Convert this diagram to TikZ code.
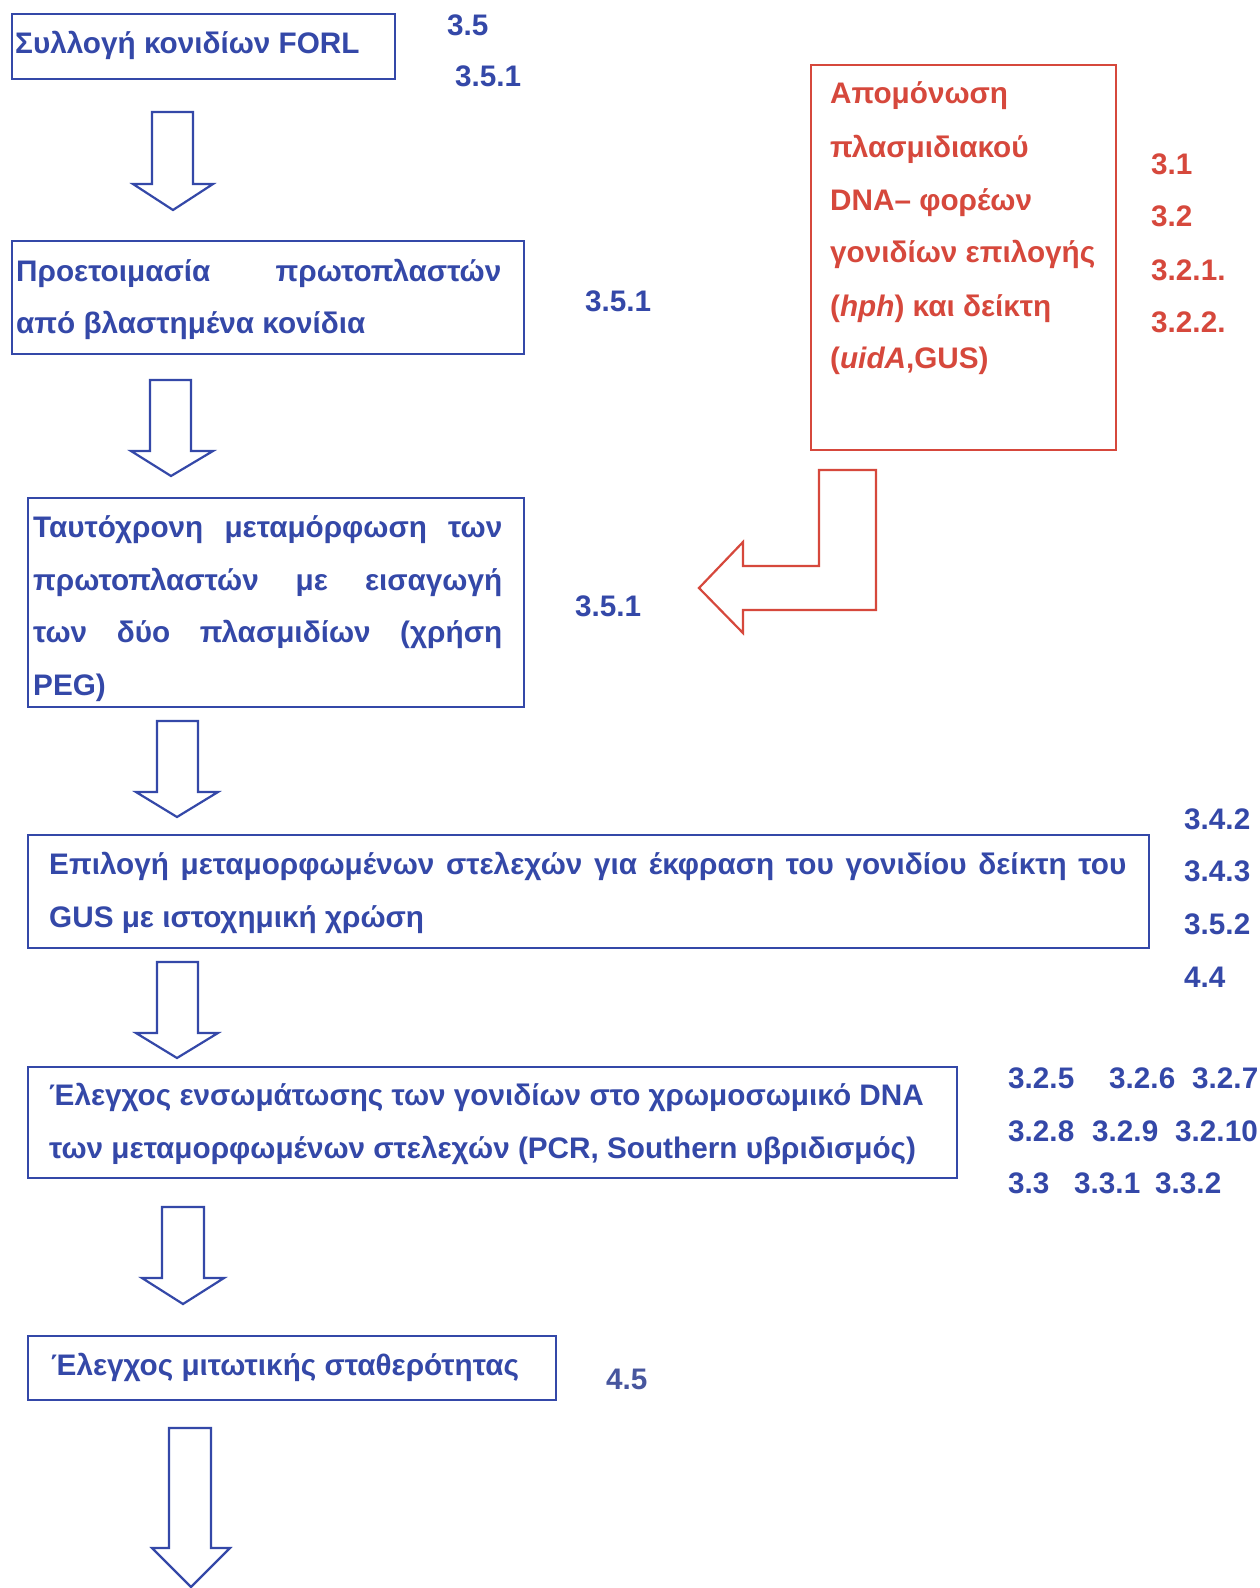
\documentclass[tikz,border=0pt]{standalone}
\usepackage{fontspec}
\setmainfont{Liberation Sans}
\definecolor{bl}{RGB}{52,72,168}
\definecolor{rd}{RGB}{214,72,60}
\begin{document}
\begin{tikzpicture}[x=1pt,y=-1pt,
  font=\fontsize{29.7}{52}\selectfont\bfseries,
  box/.style={draw=bl, line width=2.4pt, anchor=north west, inner sep=0pt},
  rbox/.style={draw=rd, line width=2.4pt, anchor=north west, inner sep=0pt},
  txt/.style={anchor=base west, inner sep=0pt, text=bl},
  rtxt/.style={anchor=base west, inner sep=0pt, text=rd},
  barrow/.style={draw=bl, line width=2.2pt, line join=miter},
  rarrow/.style={draw=rd, line width=2.2pt, line join=miter}]
\useasboundingbox (0,0) rectangle (1260,1588);
\fill[white] (0,0) rectangle (1260,1588);

% Box 1
\node[box, minimum width=383pt, minimum height=65pt] (b1) at (11,13) {};
\node[txt] (t1) at (15,53) {Συλλογή κονιδίων FORL};
\node[txt] (l1a) at (447,35) {3.5};
\node[txt] (l1b) at (455,86) {3.5.1};

% Arrow 1
\draw[barrow] (152,112) -- (193,112) -- (193,184) -- (213,184) -- (173,210) -- (133,184) -- (152,184) -- cycle;

% Box 2
\node[box, minimum width=512pt, minimum height=113pt] (b2) at (11,240) {};
\node[txt] (t2a) at (16,281) {\makebox[485pt][s]{Προετοιμασία πρωτοπλαστών}};
\node[txt] (t2b) at (16,333) {από βλαστημένα κονίδια};
\node[txt] (l2) at (585,311) {3.5.1};

% Arrow 2
\draw[barrow] (150,380) -- (191,380) -- (191,451) -- (213,451) -- (171,476) -- (131,451) -- (150,451) -- cycle;

% Red box
\node[rbox, minimum width=305pt, minimum height=385pt] (rb) at (810,64) {};
\node[rtxt] (r1) at (830,103) {Απομόνωση};
\node[rtxt] (r2) at (830,157) {πλασμιδιακού};
\node[rtxt] (r3) at (830,210) {DNA– φορέων};
\node[rtxt] (r4) at (830,262) {γονιδίων επιλογής};
\node[rtxt] (r5) at (830,316) {(\textit{hph}) και δείκτη};
\node[rtxt] (r6) at (830,368) {(\textit{uidA},GUS)};
\node[rtxt] (rl1) at (1151,174) {3.1};
\node[rtxt] (rl2) at (1151,226) {3.2};
\node[rtxt] (rl3) at (1151,280) {3.2.1.};
\node[rtxt] (rl4) at (1151,332) {3.2.2.};

% Red L arrow
\draw[rarrow] (819,470) -- (876,470) -- (876,610) -- (743,610) -- (743,633) -- (699,588) -- (743,542) -- (743,566) -- (819,566) -- cycle;

% Box 3
\node[box, minimum width=496pt, minimum height=209pt] (b3) at (27,497) {};
\node[txt] (t3a) at (33,537) {\makebox[469pt][s]{Ταυτόχρονη μεταμόρφωση των}};
\node[txt] (t3b) at (33,590) {\makebox[469pt][s]{πρωτοπλαστών με εισαγωγή}};
\node[txt] (t3c) at (33,642) {\makebox[469pt][s]{των δύο πλασμιδίων (χρήση}};
\node[txt] (t3d) at (33,695) {PEG)};
\node[txt] (l3) at (575,616) {3.5.1};

% Arrow 3
\draw[barrow] (157,721) -- (198,721) -- (198,792) -- (218,792) -- (177,817) -- (136,792) -- (157,792) -- cycle;

% Box 4
\node[box, minimum width=1121pt, minimum height=113pt] (b4) at (27,834) {};
\node[txt] (t4a) at (49,874) {\makebox[1077pt][s]{Επιλογή μεταμορφωμένων στελεχών για έκφραση του γονιδίου δείκτη του}};
\node[txt] (t4b) at (49,927) {GUS με ιστοχημική χρώση};
\node[txt] (l4a) at (1184,829) {3.4.2};
\node[txt] (l4b) at (1184,881) {3.4.3};
\node[txt] (l4c) at (1184,934) {3.5.2};
\node[txt] (l4d) at (1184,987) {4.4};

% Arrow 4
\draw[barrow] (157,962) -- (198,962) -- (198,1033) -- (218,1033) -- (177,1058) -- (136,1033) -- (157,1033) -- cycle;

% Box 5
\node[box, minimum width=929pt, minimum height=111pt] (b5) at (27,1066) {};
\node[txt] (t5a) at (49,1105) {Έλεγχος ενσωμάτωσης των γονιδίων στο χρωμοσωμικό DNA};
\node[txt] (t5b) at (49,1158) {των μεταμορφωμένων στελεχών (PCR, Southern υβριδισμός)};
\node[txt] (l5a) at (1008,1088) {3.2.5};
\node[txt] (l5b) at (1109,1088) {3.2.6};
\node[txt] (l5c) at (1192,1088) {3.2.7};
\node[txt] (l5d) at (1008,1141) {3.2.8};
\node[txt] (l5e) at (1092,1141) {3.2.9};
\node[txt] (l5f) at (1175,1141) {3.2.10};
\node[txt] (l5g) at (1008,1193) {3.3};
\node[txt] (l5h) at (1074,1193) {3.3.1};
\node[txt] (l5i) at (1155,1193) {3.3.2};

% Arrow 5
\draw[barrow] (162,1207) -- (204,1207) -- (204,1278) -- (224,1278) -- (183,1304) -- (142,1278) -- (162,1278) -- cycle;

% Box 6
\node[box, minimum width=528pt, minimum height=64pt] (b6) at (27,1335) {};
\node[txt] (t6) at (51,1375) {Έλεγχος μιτωτικής σταθερότητας};
\node[txt, text=bl!75!gray] (l6) at (606,1389) {4.5};

% Arrow 6
\draw[barrow] (169,1428) -- (211,1428) -- (211,1548) -- (230,1548) -- (191,1587) -- (152,1548) -- (169,1548) -- cycle;
\end{tikzpicture}
\end{document}
